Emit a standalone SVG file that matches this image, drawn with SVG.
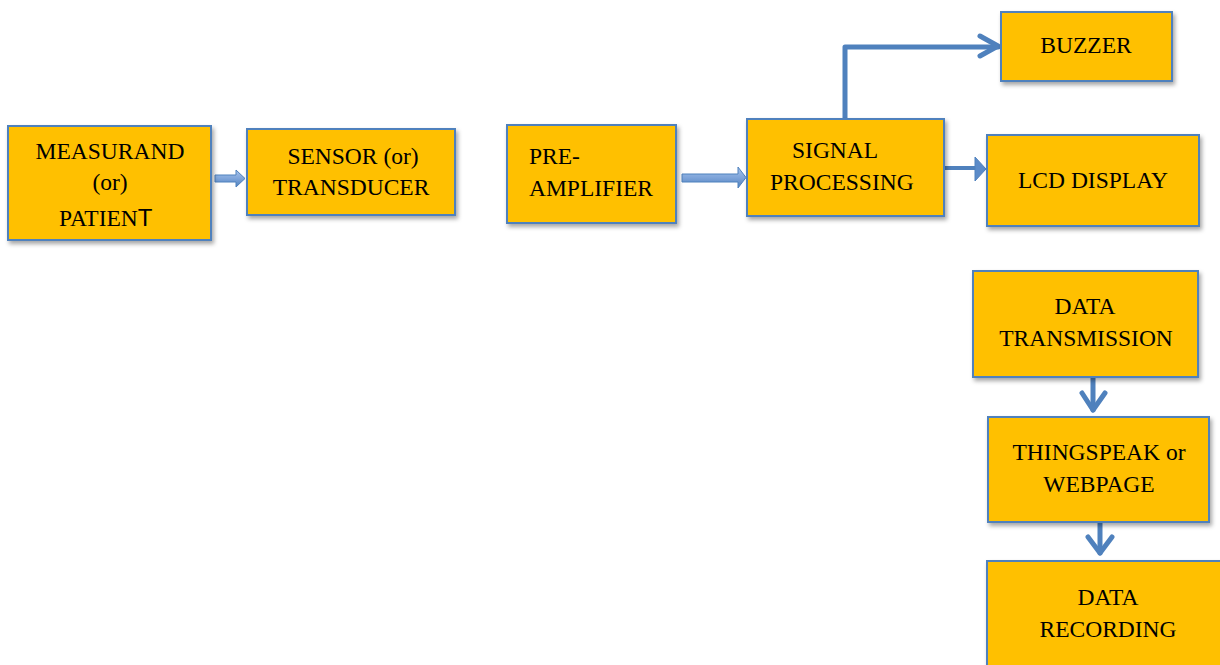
<svg xmlns="http://www.w3.org/2000/svg" width="1220" height="665" viewBox="0 0 1220 665">
<defs>
<filter id="sh" x="-10%" y="-10%" width="130%" height="140%">
<feDropShadow dx="2" dy="3" stdDeviation="2" flood-color="#000" flood-opacity="0.35"/>
</filter>
<linearGradient id="bg" x1="0" y1="0" x2="0" y2="1">
<stop offset="0" stop-color="#A9C4EB"/>
<stop offset="0.5" stop-color="#7FA5DA"/>
<stop offset="1" stop-color="#4F81BD"/>
</linearGradient>
</defs>
<style>
.box{fill:#FFC000;stroke:#4F81BD;stroke-width:2;filter:url(#sh)}
.t{font-family:"Liberation Serif","Times New Roman",serif;font-size:23.5px;fill:#000}
.c{text-anchor:middle}
.ln{fill:none;stroke:#4F81BD;stroke-width:5;stroke-linecap:round;stroke-linejoin:round}
.ba{fill:url(#bg);stroke:#4F81BD;stroke-width:1}
</style>
<rect width="1220" height="665" fill="#fff"/>
<g id="connectors">
<path class="ba" d="M215,175 H236 V170 L245,178.5 L236,187 V182 H215 Z"/>
<path class="ba" d="M682,174 H738 V167 L746,177.5 L738,188 V182 H682 Z"/>
<path class="ln" d="M845,118 V47 H998"/>
<path class="ln" d="M980,36 L998,46 L980,56"/>
<path d="M944,168 H976" stroke="#4F81BD" stroke-width="4" fill="none"/>
<path d="M975,157 L986,169 L975,181 Z" fill="#5B8BC9" stroke="#4F81BD" stroke-width="1"/>
<path class="ln" d="M1093,378 V410"/>
<path class="ln" d="M1082,393 L1093,410 L1105,393"/>
<path class="ln" d="M1100,523 V553"/>
<path class="ln" d="M1088,537 L1100,553 L1112,537"/>
</g>
<g id="measurand">
<rect class="box" x="8" y="126" width="203" height="114"/>
<text class="t c" x="110" y="159">MEASURAND</text>
<text class="t c" x="110" y="190">(or)</text>
<text class="t" x="59" y="226">PATIEN<tspan font-family="Liberation Sans,Arial,sans-serif" font-size="24">T</tspan></text>
</g>
<g id="sensor">
<rect class="box" x="247" y="129" width="208" height="86"/>
<text class="t c" x="353" y="164">SENSOR (or)</text>
<text class="t c" x="351" y="195">TRANSDUCER</text>
</g>
<g id="preamp">
<rect class="box" x="507" y="125" width="169" height="98"/>
<text class="t" x="529" y="164">PRE-</text>
<text class="t" x="529" y="196">AMPLIFIER</text>
</g>
<g id="signal">
<rect class="box" x="747" y="119" width="197" height="97"/>
<text class="t" x="792" y="158">SIGNAL</text>
<text class="t" x="770" y="190">PROCESSING</text>
</g>
<g id="buzzer">
<rect class="box" x="1001" y="12" width="171" height="69"/>
<text class="t c" x="1086" y="53">BUZZER</text>
</g>
<g id="lcd">
<rect class="box" x="987" y="135" width="212" height="91"/>
<text class="t c" x="1093" y="188">LCD DISPLAY</text>
</g>
<g id="datatx">
<rect class="box" x="973" y="271" width="225" height="106"/>
<text class="t c" x="1085" y="314">DATA</text>
<text class="t c" x="1086" y="346">TRANSMISSION</text>
</g>
<g id="thingspeak">
<rect class="box" x="988" y="417" width="221" height="105"/>
<text class="t c" x="1099" y="460">THINGSPEAK or</text>
<text class="t c" x="1099" y="492">WEBPAGE</text>
</g>
<g id="recording">
<rect class="box" x="987" y="561" width="240" height="120"/>
<text class="t c" x="1108" y="605">DATA</text>
<text class="t c" x="1108" y="637">RECORDING</text>
</g>
</svg>
